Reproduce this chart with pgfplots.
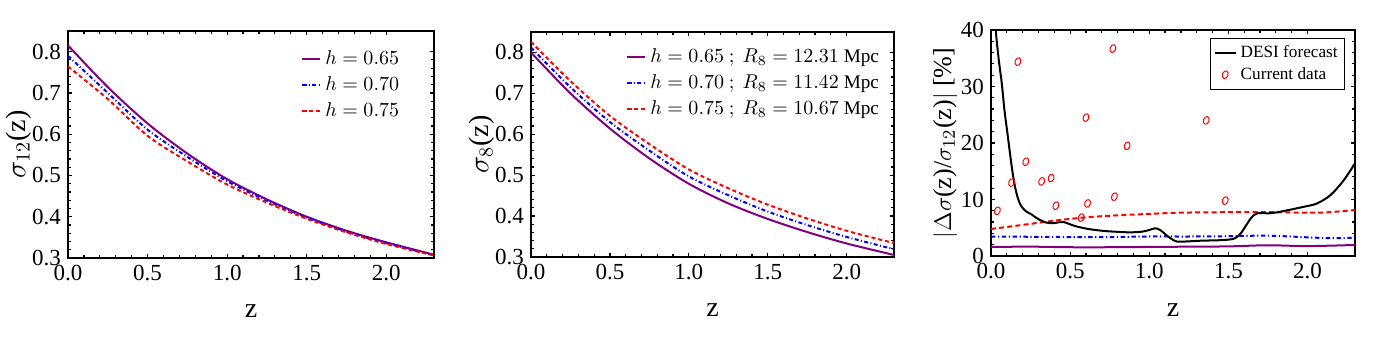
\documentclass[border=0pt]{standalone}
\usepackage{fontspec}
\setmainfont{Liberation Serif}
\usepackage{pgfplots}
\pgfplotsset{compat=1.18}
\definecolor{mpurple}{RGB}{128,0,128}

\pgfplotsset{
  mframe/.style={
    scale only axis,
    xmin=0, xmax=2.3,
    tick align=inside,
    major tick length=2.2pt, minor tick length=1.3pt,
    minor x tick num=4, minor y tick num=4,
    axis line style={line width=0.9pt},
    every tick/.style={black, line width=0.6pt},
    xtick={0,0.5,1,1.5,2},
    x tick label style={/pgf/number format/.cd, fixed, fixed zerofill, precision=1, /tikz/.cd},
    /pgf/number format/assume math mode=true,
    tick label style={font=\fontsize{11.5}{13}\selectfont},
    label style={font=\fontsize{14}{16}\selectfont},
    xlabel={z},
    xlabel style={at={(axis description cs:0.5,-0.235)}, anchor=center},
    legend cell align=left,
    legend image code/.code={\draw[mark repeat=2,mark phase=2,#1] plot coordinates {(0pt,0pt)(4.5pt,0pt)(9pt,0pt)};},
  },
  c65/.style={mpurple, line width=1pt},
  c70/.style={blue, line width=1pt, dash pattern=on 2pt off 1.2pt on 0.5pt off 1.2pt},
  c75/.style={red, line width=1pt, dash pattern=on 2pt off 1.5pt},
}

\begin{document}
\begin{tikzpicture}
\path[use as bounding box] (0,0) rectangle (699.5pt,173pt);

% sigma_12
\begin{axis}[mframe, at={(34pt,44pt)}, anchor=south west, width=183pt, height=113.5pt,
  ymin=0.3, ymax=0.85, ytick={0.3,0.4,0.5,0.6,0.7,0.8},
  y tick label style={/pgf/number format/.cd, fixed, fixed zerofill, precision=1, /tikz/.cd},
  ylabel={$\sigma_{12}$(z)},
  ylabel style={at={(axis description cs:-0.135,0.5)}, anchor=center},
  legend style={draw=none, fill=none, at={(0.62,0.95)}, anchor=north west,
    font=\fontsize{9.6}{11.5}\selectfont, row sep=0.6pt}]
  \addplot[c65, smooth] coordinates {(0,0.815) (0.25,0.714) (0.5,0.626) (0.75,0.553) (1.0,0.491) (1.25,0.442) (1.5,0.400) (1.75,0.366) (2.0,0.338) (2.3,0.308)};
  \addlegendentry{$h=0.65$}
  \addplot[c70, smooth] coordinates {(0,0.790) (0.25,0.700) (0.5,0.611) (0.75,0.545) (1.0,0.486) (1.25,0.439) (1.5,0.398) (1.75,0.364) (2.0,0.336) (2.3,0.307)};
  \addlegendentry{$h=0.70$}
  \addplot[c75, smooth] coordinates {(0,0.764) (0.25,0.685) (0.5,0.596) (0.75,0.534) (1.0,0.478) (1.25,0.434) (1.5,0.395) (1.75,0.362) (2.0,0.334) (2.3,0.306)};
  \addlegendentry{$h=0.75$}
\end{axis}

% sigma_8
\begin{axis}[mframe, at={(265.5pt,44.5pt)}, anchor=south west, width=181.5pt, height=112.5pt,
  ymin=0.3, ymax=0.85, ytick={0.3,0.4,0.5,0.6,0.7,0.8},
  y tick label style={/pgf/number format/.cd, fixed, fixed zerofill, precision=1, /tikz/.cd},
  ylabel={$\sigma_{8}$(z)},
  ylabel style={at={(axis description cs:-0.136,0.5)}, anchor=center},
  legend style={draw=none, fill=none, at={(0.245,0.965)}, anchor=north west,
    font=\fontsize{9.6}{11.5}\selectfont, row sep=0.6pt}]
  \addplot[c65, smooth] coordinates {(0,0.800) (0.25,0.700) (0.5,0.614) (0.75,0.541) (1.0,0.479) (1.25,0.431) (1.5,0.393) (1.75,0.361) (2.0,0.333) (2.3,0.305)};
  \addlegendentry{$h=0.65\ ;\ R_8=12.31$ Mpc}
  \addplot[c70, smooth] coordinates {(0,0.812) (0.25,0.715) (0.5,0.630) (0.75,0.560) (1.0,0.497) (1.25,0.451) (1.5,0.411) (1.75,0.378) (2.0,0.349) (2.3,0.319)};
  \addlegendentry{$h=0.70\ ;\ R_8=11.42$ Mpc}
  \addplot[c75, smooth] coordinates {(0,0.826) (0.25,0.730) (0.5,0.645) (0.75,0.576) (1.0,0.514) (1.25,0.468) (1.5,0.428) (1.75,0.394) (2.0,0.364) (2.3,0.334)};
  \addlegendentry{$h=0.75\ ;\ R_8=10.67$ Mpc}
\end{axis}

% relative errors
\begin{axis}[mframe, at={(495.5pt,45pt)}, anchor=south west, width=182pt, height=113pt,
  ymin=0, ymax=40, ytick={0,10,20,30,40},
  ylabel={$|\Delta\sigma$(z)/$\sigma_{12}$(z)$|$ [\%]},
  ylabel style={at={(axis description cs:-0.126,0.5)}, anchor=center, font=\fontsize{13}{15}\selectfont},
  xlabel style={at={(axis description cs:0.5,-0.239)}, anchor=center},
  legend style={draw=black, line width=0.5pt, fill=white, at={(0.973,0.966)}, anchor=north east,
    font=\fontsize{8.6}{10}\selectfont, row sep=-0.5pt, inner sep=1.5pt},
  legend image code/.code={\draw[mark repeat=2,mark phase=2,#1] plot coordinates {(0pt,0pt)(5.25pt,0pt)(10.5pt,0pt)};}]
  \addplot[mpurple, line width=1pt, smooth, forget plot] coordinates {(0,1.6) (0.25,1.65) (0.5,1.55) (0.75,1.55) (1.0,1.6) (1.25,1.65) (1.5,1.7) (1.75,1.9) (2.0,1.75) (2.3,1.95)};
  \addplot[blue, line width=1pt, dash pattern=on 2.2pt off 1.3pt on 0.6pt off 1.3pt, smooth, forget plot] coordinates {(0,3.45) (0.25,3.4) (0.5,3.35) (0.75,3.35) (1.0,3.45) (1.25,3.45) (1.5,3.5) (1.75,3.6) (2.0,3.3) (2.15,3.15) (2.3,3.25)};
  \addplot[red, line width=1pt, dash pattern=on 2.5pt off 1.6pt, smooth, forget plot] coordinates {(0,4.78) (0.2,5.5) (0.4,6.25) (0.6,6.84) (0.8,7.2) (1.0,7.45) (1.2,7.67) (1.5,7.75) (1.77,7.75) (2.08,7.67) (2.3,8.14)};
  \addplot[black, line width=1pt, smooth] coordinates {(0.02,46) (0.03,40) (0.05,34.5) (0.068,30.6) (0.085,25.8) (0.104,21.7) (0.131,15.8) (0.15,12.5) (0.167,10.5) (0.182,9.3) (0.2,8.5) (0.224,7.85) (0.255,7.37) (0.298,6.55) (0.351,5.9) (0.403,5.84) (0.456,6.02) (0.53,5.31) (0.615,4.78) (0.72,4.42) (0.868,4.19) (0.953,4.3) (1.0,4.6) (1.037,4.9) (1.069,4.6) (1.12,3.42) (1.164,2.65) (1.198,2.53) (1.33,2.71) (1.45,2.8) (1.535,3.06) (1.578,4.0) (1.642,6.67) (1.684,7.56) (1.758,7.56) (1.83,7.85) (1.98,8.73) (2.06,9.3) (2.146,10.8) (2.23,13.45) (2.30,16.4)};
  \addlegendentry{DESI forecast}
  \addplot[only marks, red, mark=o, mark size=2pt, mark options={rotate=-20, xscale=0.7, line width=0.5pt}] coordinates {(0.04,8.0) (0.13,13.0) (0.17,34.4) (0.22,16.7) (0.32,13.2) (0.38,13.8) (0.41,8.9) (0.57,6.8) (0.60,24.5) (0.61,9.3) (0.77,36.7) (0.78,10.5) (0.86,19.5) (1.36,24.0) (1.48,9.8)};
  \addlegendentry{Current data}
\end{axis}
\end{tikzpicture}
\end{document}
